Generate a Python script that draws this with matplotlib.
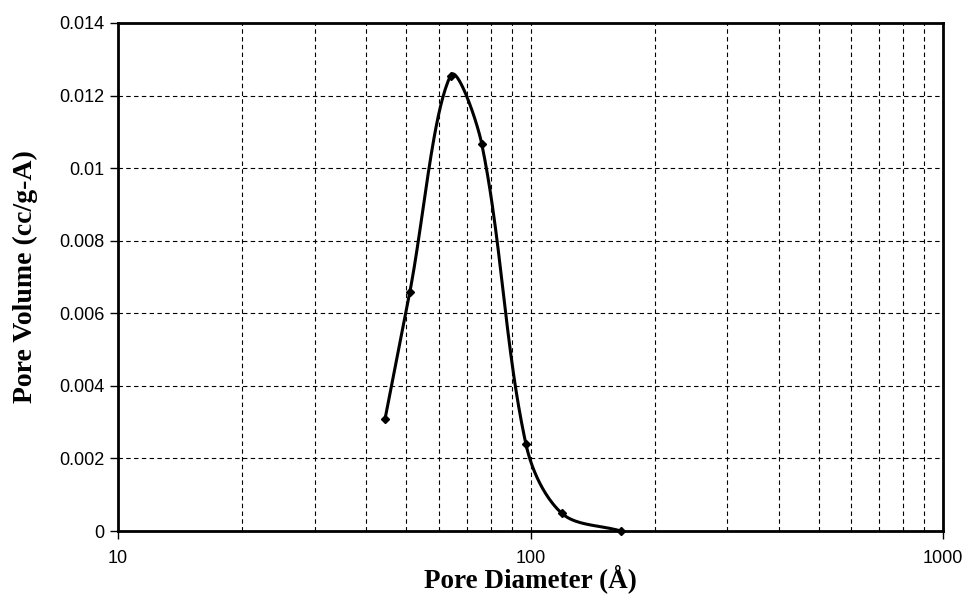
import numpy as np
import matplotlib.pyplot as plt
from matplotlib.ticker import LogLocator, NullFormatter, FixedLocator

# Pore size distribution
pore_diameter = [44.4, 51.0, 64.0, 76.2, 97.5, 119.0, 165.5]
pore_volume = [0.00309, 0.00659, 0.01255, 0.01066, 0.00239, 0.00049, 0.0]
y_ticks = [0, 0.002, 0.004, 0.006, 0.008, 0.01, 0.012, 0.014]
y_tick_labels = ['0', '0.002', '0.004', '0.006', '0.008', '0.01', '0.012', '0.014']

DECADE_PX = 412.5      # screen length of one x decade
YSTEP_PX = 72.6        # screen length of 0.002 on y


def smooth_curve(xs, ys, n=40):
    # spreadsheet-style smoothed line: Bezier segments, tangent p(i+1)-p(i-1),
    # handle length scaled by neighbouring chord lengths, done in screen space
    pts = np.column_stack([np.log10(xs) * DECADE_PX, np.asarray(ys) / 0.002 * YSTEP_PX])
    m = len(pts)
    out = [pts[0]]
    for i in range(m - 1):
        p0 = pts[i - 1] if i > 0 else pts[i]
        p1, p2 = pts[i], pts[i + 1]
        p3 = pts[i + 2] if i + 2 < m else pts[i + 1]
        d01 = np.hypot(*(p1 - p0))
        d12 = np.hypot(*(p2 - p1))
        d23 = np.hypot(*(p3 - p2))
        c1 = p1 + (p2 - p0) * d12 / (d01 + d12) / 3
        c2 = p2 - (p3 - p1) * d12 / (d12 + d23) / 3
        t = np.linspace(0, 1, n)[1:, None]
        seg = (1 - t) ** 3 * p1 + 3 * (1 - t) ** 2 * t * c1 + 3 * (1 - t) * t ** 2 * c2 + t ** 3 * p2
        out.extend(seg)
    out = np.array(out)
    return 10 ** (out[:, 0] / DECADE_PX), out[:, 1] / YSTEP_PX * 0.002


fig = plt.figure(figsize=(9.7, 5.94), dpi=100)
ax = fig.add_axes([118 / 970, 1 - 531 / 594, 825 / 970, 508 / 594])

ax.set_xscale('log')
ax.set_xlim(10, 1000)
ax.set_ylim(0, 0.014)

sx, sy = smooth_curve(pore_diameter, pore_volume)
ax.plot(sx, sy, color='black', lw=2.2, zorder=3, clip_on=False)
ax.plot(pore_diameter, pore_volume, ls='none', marker='D', ms=4.5, color='black',
        zorder=4, clip_on=False)

ax.set_yticks(y_ticks)
ax.set_yticklabels(y_tick_labels)
ax.xaxis.set_major_locator(FixedLocator([10, 100, 1000]))
ax.set_xticklabels(['10', '100', '1000'])
ax.xaxis.set_minor_locator(LogLocator(base=10, subs=np.arange(2, 10)))
ax.xaxis.set_minor_formatter(NullFormatter())

ax.grid(which='major', axis='both', color='black', ls=(0, (4, 3)), lw=0.8)
ax.grid(which='minor', axis='x', color='black', ls=(0, (4, 3)), lw=0.8)
ax.set_axisbelow(True)

for side in ['left', 'bottom', 'top', 'right']:
    ax.spines[side].set_linewidth(2)
ax.tick_params(which='major', direction='out', length=6, width=1, labelsize=13)
ax.tick_params(which='minor', length=0)
ax.tick_params(axis='x', pad=8)
for lbl in ax.get_xticklabels() + ax.get_yticklabels():
    lbl.set_fontfamily('Liberation Sans')

ax.set_xlabel('Pore Diameter (Å)', fontfamily='Liberation Serif', fontweight='bold',
              fontsize=19.5, va='baseline')
ax.xaxis.set_label_coords(0.5, (531 - 587) / 508)
ax.set_ylabel('Pore Volume (cc/g-A)', fontfamily='Liberation Serif', fontweight='bold',
              fontsize=20, va='center')
ax.yaxis.set_label_coords((25 - 118) / 825, 0.5)

fig.savefig('out.png', dpi=100)
